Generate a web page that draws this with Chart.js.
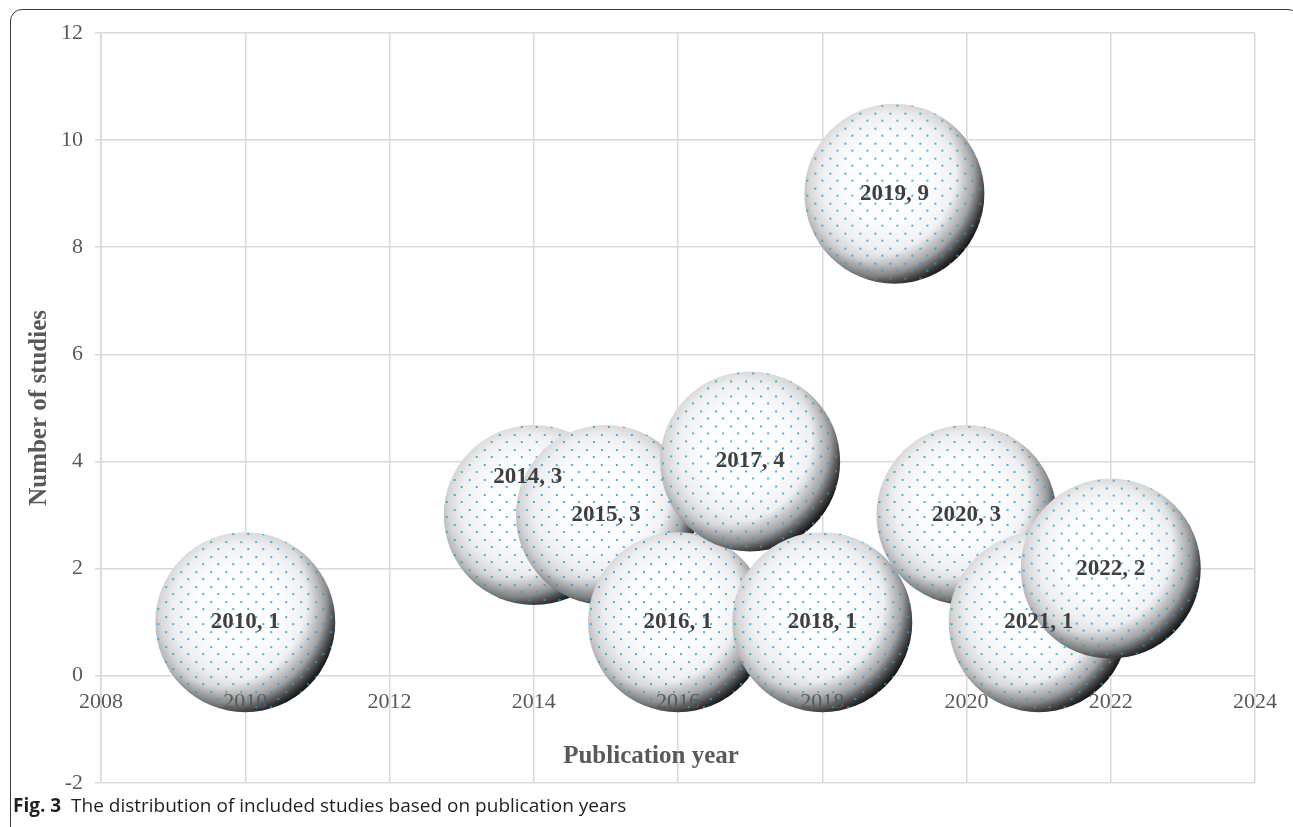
<!DOCTYPE html>
<html><head><meta charset="utf-8">
<script src="https://cdn.jsdelivr.net/npm/chart.js@4/dist/chart.umd.min.js"></script>
<style>
html,body{margin:0;padding:0;background:#fff;width:1293px;height:827px;overflow:hidden;}
#frame{position:absolute;left:10px;top:9px;width:1290px;height:830px;border:1.4px solid #3a3a3a;border-radius:12px;box-sizing:border-box;}
#wrap{position:absolute;left:0;top:0;width:1293px;height:808px;}
#caption{position:absolute;left:13px;top:792px;font-family:"Open Sans";font-size:19px;color:#231f20;white-space:nowrap;z-index:2;}
</style></head>
<body>
<div id="frame"></div>
<div id="wrap"><canvas id="c"></canvas></div>
<div id="caption"><b>Fig. 3</b>&nbsp; The distribution of included studies based on publication years</div>
<script>
// ---- data ----
const years   = [2010, 2014, 2015, 2016, 2017, 2018, 2019, 2020, 2021, 2022];
const studies = [1, 3, 3, 1, 4, 1, 9, 3, 1, 2];
const xTickValues = [2008, 2010, 2012, 2014, 2016, 2018, 2020, 2022, 2024];
const yTickValues = [-2, 0, 2, 4, 6, 8, 10, 12];
const pointLabels = years.map((y, i) => y + ', ' + studies[i]);

// ---- styles ----
const BUBBLE_R = 90;
const SERIF = '"Liberation Serif", "Times New Roman", serif';
const labelShift = {1: [-6, -38]};   // 2014 label sits up-left in the original

function makeSphere(r) {
  const pad = 2, s = 2 * r + 2 * pad;
  const c = document.createElement('canvas');
  c.width = s; c.height = s;
  const g = c.getContext('2d');
  const cx = s / 2, cy = s / 2;
  g.save();
  g.beginPath(); g.arc(cx, cy, r + 1, 0, Math.PI * 2); g.clip();
  const g1 = g.createRadialGradient(cx - 0.08 * r, cy - 0.2 * r, 0, cx - 0.04 * r, cy - 0.1 * r, 1.08 * r);
  g1.addColorStop(0, '#ffffff');
  g1.addColorStop(0.45, '#fcfcfc');
  g1.addColorStop(0.7, '#efefef');
  g1.addColorStop(0.84, '#d6d6d6');
  g1.addColorStop(0.94, '#b0b0b0');
  g1.addColorStop(1, '#909090');
  g.fillStyle = g1; g.fillRect(0, 0, s, s);
  const g2 = g.createRadialGradient(cx - 0.3 * r, cy - 0.28 * r, 0.98 * r, cx - 0.3 * r, cy - 0.28 * r, 1.42 * r);
  g2.addColorStop(0, 'rgba(0,0,0,0)');
  g2.addColorStop(0.5, 'rgba(0,0,0,0.24)');
  g2.addColorStop(1, 'rgba(0,0,0,0.9)');
  g.fillStyle = g2; g.fillRect(0, 0, s, s);
  g.fillStyle = 'rgba(25,165,212,0.8)';
  for (let row = 0, y = 3; y < s; row++, y += 7.5) {
    for (let x = 4 + (row % 2) * 7.5; x < s; x += 15) {
      g.fillRect(Math.round(x), Math.round(y), 2, 2);
    }
  }
  g.restore();
  return c;
}
const sphere = makeSphere(BUBBLE_R);

const labelPlugin = {
  id: 'bubbleLabels',
  afterDatasetsDraw(chart) {
    const meta = chart.getDatasetMeta(0);
    const c = chart.ctx;
    c.save();
    c.font = 'bold 23px ' + SERIF;
    c.fillStyle = '#3f3f3f';
    c.textAlign = 'center';
    c.textBaseline = 'middle';
    meta.data.forEach((el, i) => {
      const off = labelShift[i] || [0, 0];
      c.fillText(pointLabels[i], el.x + off[0], el.y + off[1]);
    });
    c.restore();
  },
  afterDraw(chart) {
    const c = chart.ctx;
    c.save();
    c.font = 'bold 25px ' + SERIF;
    c.fillStyle = '#595959';
    c.textAlign = 'center';
    c.textBaseline = 'middle';
    c.fillText('Publication year', 651, 757);
    c.restore();
  }
};

new Chart(document.getElementById('c'), {
  type: 'bubble',
  data: {
    datasets: [{
      data: years.map((y, i) => ({x: y, y: studies[i]})),
      radius: BUBBLE_R,
      borderWidth: 0,
      clip: false,
      backgroundColor: (ctx) => {
        if (ctx.type !== 'data' || !ctx.raw) return '#eeeeee';
        const ch = ctx.chart;
        const px = ch.scales.x.getPixelForValue(ctx.raw.x);
        const py = ch.scales.y.getPixelForValue(ctx.raw.y);
        const p = ch.ctx.createPattern(sphere, 'no-repeat');
        p.setTransform(new DOMMatrix([1, 0, 0, 1, px - sphere.width / 2, py - sphere.height / 2]));
        return p;
      }
    }]
  },
  options: {
    responsive: true,
    maintainAspectRatio: false,
    animation: false,
    events: [],
    layout: {autoPadding: false, padding: {left: 10, top: 33, right: 38, bottom: 18}},
    plugins: {legend: {display: false}, tooltip: {enabled: false}},
    scales: {
      x: {
        type: 'linear',
        min: 2008, max: 2024,
        position: {y: 0},
        afterBuildTicks: (s) => { s.ticks = xTickValues.map(v => ({value: v})); },
        ticks: {
          z: 1,
          padding: 13,
          color: '#595959',
          font: {family: SERIF, size: 22},
          callback: (v) => String(v)
        },
        grid: {color: '#d9d9d9', lineWidth: 1.5, drawTicks: false},
        border: {display: false}
      },
      y: {
        type: 'linear',
        min: -2, max: 12,
        position: 'left',
        afterBuildTicks: (s) => { s.ticks = yTickValues.map(v => ({value: v})); },
        afterFit: (s) => { s.width = 91; },
        ticks: {
          padding: 12,
          color: '#595959',
          font: {family: SERIF, size: 22},
          callback: (v) => String(v)
        },
        grid: {color: '#d9d9d9', lineWidth: 1.5, tickLength: 6},
        border: {color: '#d9d9d9', width: 1.5},
        title: {
          display: true,
          text: 'Number of studies',
          color: '#595959',
          font: {family: SERIF, size: 25, weight: 'bold'},
          padding: {top: 15, bottom: 0}
        }
      }
    }
  },
  plugins: [labelPlugin]
});
</script>
</body></html>
